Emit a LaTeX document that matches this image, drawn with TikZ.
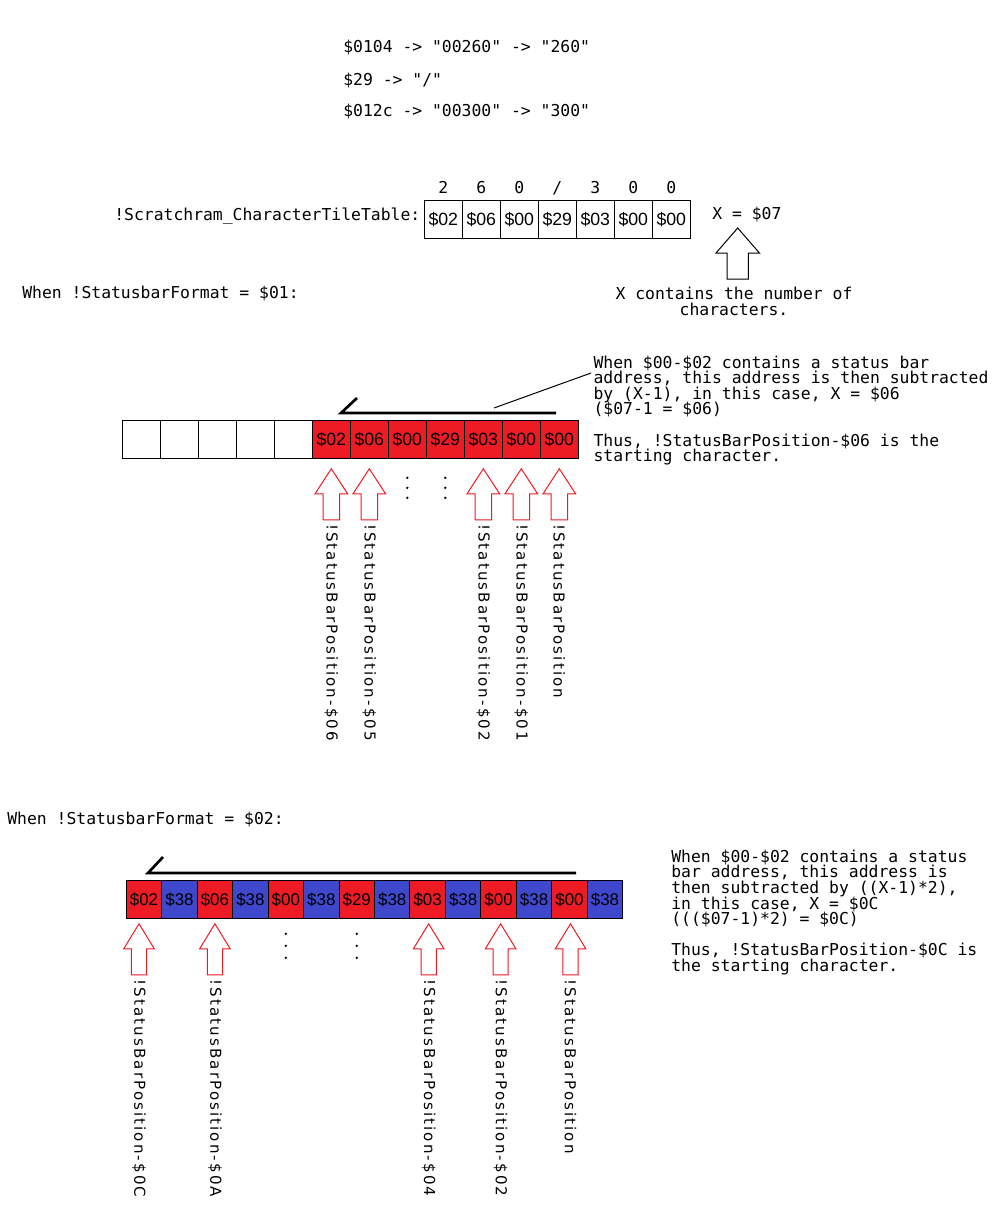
\documentclass[tikz,border=0pt]{standalone}
\usepackage{fontspec}
\setmainfont{Liberation Sans}
\setmonofont{DejaVu Sans Mono}
\newfontfamily\labelfont{DejaVu Sans}[LetterSpace=14]
\usepackage{tikz}
\usetikzlibrary{calc}
\definecolor{cellred}{HTML}{ED1C24}
\definecolor{cellblue}{HTML}{3F48CC}

\tikzset{
  mono/.style={font=\ttfamily\fontsize{12.3}{11.7}\selectfont, inner sep=0pt, align=left,
    execute at begin node={\lineskiplimit=-20pt}},
  cellbox/.style={draw, line width=0.75pt, minimum width=28.5pt, minimum height=28.5pt,
    inner sep=0pt, font=\fontsize{13.3}{13.3}\selectfont},
  halfcell/.style={cellbox, minimum width=26.6pt, minimum height=28.2pt,
    font=\fontsize{12.7}{12.7}\selectfont},
  poslabel/.style={font=\labelfont\fontsize{11.3}{11.3}\selectfont, rotate=-90,
    anchor=west, inner sep=0pt},
  shiftline/.style={line width=2pt, line join=miter},
  pics/hollowup/.style 2 args={code={
    \draw[line width=0.75pt, fill=white] (0,0) -- (#1,25) -- (#2,25) -- (#2,51)
      -- (-#2,51) -- (-#2,25) -- (-#1,25) -- cycle;}},
}

\begin{document}
\begin{tikzpicture}[x=0.75pt, y=-0.75pt]
  \fill[white] (0,0) rectangle (1002,1213);
  \useasboundingbox (0,0) rectangle (1002,1213);
  % conversions
  \node[mono, anchor=base west] (conv1) at (343,53) {\$0104 -> "00260" -> "260"};
  \node[mono, anchor=base west] (conv2) at (343,85) {\$29 -> "/"};
  \node[mono, anchor=base west] (conv3) at (343,117) {\$012c -> "00300" -> "300"};
  % character tile table
  \node[mono, anchor=base west] (tablename) at (114,220) {!Scratchram\_CharacterTileTable:};
  \foreach \v [count=\i from 0] in {02,06,00,29,03,00,00}
    \node[cellbox] (t\i) at (443.3+38*\i,219.5) {\$\v};
  \foreach \c [count=\i from 0] in {2,6,0,/,3,0,0}
    \node[mono, anchor=base] (d\i) at (443.3+38*\i,193) {\c};
  % number of characters
  \node[mono, anchor=base west] (xval) at (712,219) {X = \$07};
  \pic at (737.7,228) {hollowup={21.7}{10.7}};
  \node[mono, anchor=base, align=center] (xnote) at (734,315.5)
    {X contains the number of\\characters.};

  % format $01
  \node[mono, anchor=base west] (fmt1) at (22,298) {When !StatusbarFormat = \$01:};
  \foreach \i in {0,...,4}
    \node[cellbox, fill=white] (m\i) at (141.3+38*\i,439.3) {};
  \foreach \v [count=\i from 5] in {02,06,00,29,03,00,00}
    \node[cellbox, fill=cellred] (m\i) at (141.3+38*\i,439.3) {\$\v};
  \draw[shiftline] (357,398) -- (341,413) -- (556,413);
  \node[mono, anchor=base west] (note1) at (593.3,461.7)
    {When \$00-\$02 contains a status bar\\address, this address is then subtracted\\%
     by (X-1), in this case, X = \$06\\(\$07-1 = \$06)\\[11.7pt]%
     Thus, !StatusBarPosition-\$06 is the\\starting character.};
  \coordinate (lead1) at (591,373);
  \draw[line width=0.75pt] (494,408) -- (lead1);
  \foreach \i/\s in {5/{-\$06},6/{-\$05},9/{-\$02},10/{-\$01},11/{}} {
    \pic[cellred] at ($(m\i.south)+(0,10)$) {hollowup={16.3}{8.3}};
    \node[poslabel] (p\i) at ($(m\i.south)+(0,65)$) {!StatusBarPosition\s};
  }
  \foreach \i in {7,8}
    \foreach \k in {19,29,39}
      \fill ($(m\i.south)+(0,\k)$) circle (1.3);

  % format $02
  \node[mono, anchor=base west] (fmt2) at (7,824) {When !StatusbarFormat = \$02:};
  \foreach \v [count=\k from 0] in {02,06,00,29,03,00,00} {
    \pgfmathtruncatemacro\i{2*\k}
    \pgfmathtruncatemacro\j{2*\k+1}
    \node[halfcell, fill=cellred] (b\i) at (144+70.92*\k,899.5) {\$\v};
    \node[halfcell, fill=cellblue] (b\j) at (179.46+70.92*\k,899.5) {\$38};
  }
  \draw[shiftline] (163,857) -- (148,873) -- (576,873);
  \node[mono, anchor=base west] (note2) at (671,971.5)
    {When \$00-\$02 contains a status\\bar address, this address is\\%
     then subtracted by ((X-1)*2),\\in this case, X = \$0C\\(((\$07-1)*2) = \$0C)\\[11.7pt]%
     Thus, !StatusBarPosition-\$0C is\\the starting character.};
  \foreach \i/\dx/\s in {0/-5/{-\$0C},2/0/{-\$0A},8/1/{-\$04},10/2/{-\$02},12/1/{}} {
    \pic[cellred] at ($(b\i.south)+(\dx,5)$) {hollowup={15.3}{7.6}};
    \node[poslabel] (q\i) at ($(b\i.south)+(\dx,60.4)$) {!StatusBarPosition\s};
  }
  \foreach \i in {4,6}
    \foreach \k in {15,27,39}
      \fill ($(b\i.south)+(0,\k)$) circle (1.3);
\end{tikzpicture}
\end{document}
